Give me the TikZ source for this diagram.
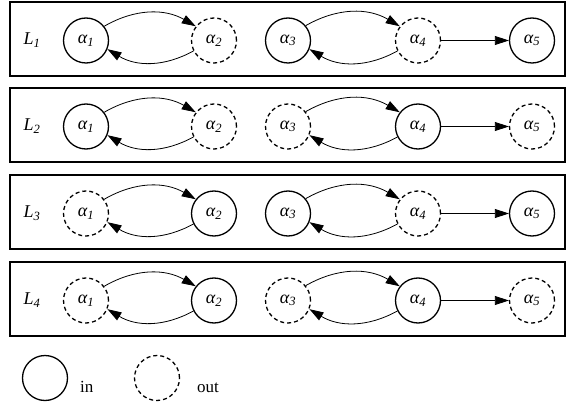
\documentclass[tikz,border=0pt]{standalone}
\usepackage{fontspec}
\setmainfont{Liberation Serif}
\usetikzlibrary{arrows.meta}
\tikzset{
  inn/.style={circle, draw, line width=1.3pt, minimum size=45pt, inner sep=0pt, font=\fontsize{18}{18}\selectfont\itshape},
  outn/.style={inn, dash pattern=on 4pt off 3pt},
  rowbox/.style={draw, line width=1.5pt},
  lab/.style={font=\fontsize{18}{18}\selectfont\itshape},
  leg/.style={font=\fontsize{17}{17}\selectfont, anchor=base west, inner sep=0pt},
  arc/.style={line width=0.8pt, -{Triangle[length=14pt,width=9pt]}},
}
\newcommand{\al}[1]{α\textsubscript{#1}}
\begin{document}
\begin{tikzpicture}[x=1pt,y=-1pt]
\useasboundingbox (0,0) rectangle (567,406);
% boxes
\draw[rowbox] (10,2) rectangle (565,76);
\draw[rowbox] (10,88) rectangle (565,162);
\draw[rowbox] (10,175) rectangle (565,249);
\draw[rowbox] (10,262) rectangle (565,336);
% labels
\node[lab] (l1) at (32,40) {L\textsubscript{1}};
\node[lab] (l2) at (32,126) {L\textsubscript{2}};
\node[lab] (l3) at (32,213) {L\textsubscript{3}};
\node[lab] (l4) at (32,300) {L\textsubscript{4}};
% row 1
\node[inn]  (a11) at (86,40.5) {\al{1}};
\node[outn] (a12) at (214,40.5) {\al{2}};
\node[inn]  (a13) at (288,40.5) {\al{3}};
\node[outn] (a14) at (418,40.5) {\al{4}};
\node[inn]  (a15) at (532,40.5) {\al{5}};
% row 2
\node[inn]  (a21) at (86,126.5) {\al{1}};
\node[outn] (a22) at (214,126.5) {\al{2}};
\node[outn] (a23) at (288,126.5) {\al{3}};
\node[inn]  (a24) at (418,126.5) {\al{4}};
\node[outn] (a25) at (532,126.5) {\al{5}};
% row 3
\node[outn] (a31) at (86,213.5) {\al{1}};
\node[inn]  (a32) at (214,213.5) {\al{2}};
\node[inn]  (a33) at (288,213.5) {\al{3}};
\node[outn] (a34) at (418,213.5) {\al{4}};
\node[inn]  (a35) at (532,213.5) {\al{5}};
% row 4
\node[outn] (a41) at (86,300.5) {\al{1}};
\node[inn]  (a42) at (214,300.5) {\al{2}};
\node[outn] (a43) at (288,300.5) {\al{3}};
\node[inn]  (a44) at (418,300.5) {\al{4}};
\node[outn] (a45) at (532,300.5) {\al{5}};
% connectors
\foreach \r in {1,2,3,4}{
  \draw[arc] (a\r1.38) to[bend left=30] (a\r2.142);
  \draw[arc] (a\r2.207) to[bend left=30] (a\r1.-22);
  \draw[arc] (a\r3.40) to[bend left=30] (a\r4.142);
  \draw[arc] (a\r4.207) to[bend left=30] (a\r3.-22);
  \draw[arc] (a\r4.east) -- (a\r5.west);
}
% legend
\node[inn]  (lin) at (45,378) {};
\node[leg]  (tin) at (80,392) {in};
\node[outn] (lout) at (157,378) {};
\node[leg]  (tout) at (197,392) {out};
\end{tikzpicture}
\end{document}
